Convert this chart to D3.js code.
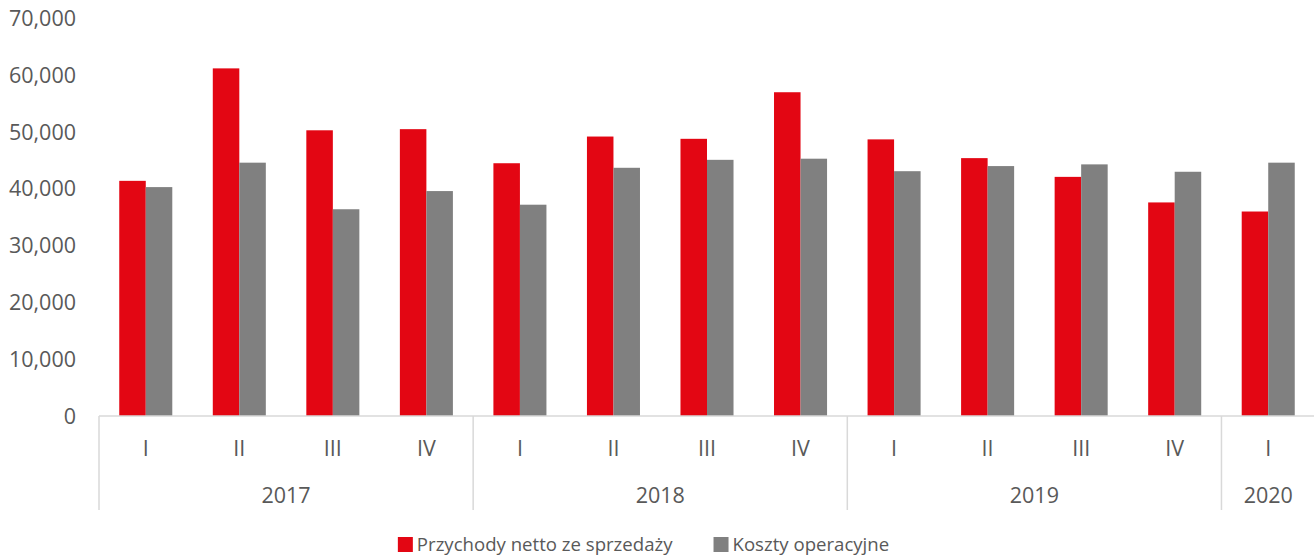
<!DOCTYPE html>
<html>
<head>
<meta charset="utf-8">
<script src="https://cdn.jsdelivr.net/npm/d3@7"></script>
<style>
  body { margin: 0; background: #fff; }
  svg { display: block; font-family: "Open Sans", sans-serif; }
</style>
</head>
<body>
<svg id="chart" width="1314" height="558"></svg>
<script>
let years = ["2017", "2018", "2019", "2020"]
let yearQuarters = [4, 4, 4, 1]
let quarters = ["I", "II", "III", "IV", "I", "II", "III", "IV", "I", "II", "III", "IV", "I"]
let revenue = [41400, 61200, 50300, 50500, 44500, 49200, 48800, 57000, 48700, 45400, 42100, 37600, 36000]
let costs = [40300, 44600, 36400, 39600, 37200, 43700, 45100, 45300, 43100, 44000, 44300, 43000, 44600]
let seriesNames = ["Przychody netto ze sprzedaży", "Koszty operacyjne"]
let seriesColors = ["#e30613", "#808080"]
let yTicks = [0, 10000, 20000, 30000, 40000, 50000, 60000, 70000]

let svg = d3.select("#chart")
let textColor = "#595959"
let lineColor = "#d9d9d9"

let plotLeft = 99, plotRight = 1315, plotTop = 18.4, plotBottom = 416

let x = d3.scaleBand()
    .domain(d3.range(quarters.length))
    .range([plotLeft, plotRight])
    .paddingInner(0.433)
    .paddingOuter(0.2165)

let xSeries = d3.scaleBand()
    .domain([0, 1])
    .range([0, x.bandwidth()])

let y = d3.scaleLinear()
    .domain([0, 70000])
    .range([plotBottom, plotTop])

let fmt = d3.format(",")

// y tick labels
svg.append("g")
    .selectAll("text")
    .data(yTicks)
    .enter()
    .append("text")
    .attr("x", 76)
    .attr("y", d => y(d))
    .attr("dy", "0.35em")
    .attr("text-anchor", "end")
    .attr("fill", textColor)
    .style("font-size", "21.5px")
    .text(d => fmt(d))

// bars
let rows = quarters.map((q, i) => ({ i: i, values: [revenue[i], costs[i]] }))

let groups = svg.append("g")
    .selectAll("g")
    .data(rows)
    .enter()
    .append("g")
    .attr("transform", d => "translate(" + x(d.i) + ",0)")

groups.selectAll("rect")
    .data(d => d.values.map((v, s) => ({ v: v, s: s })))
    .enter()
    .append("rect")
    .attr("x", d => xSeries(d.s))
    .attr("width", xSeries.bandwidth())
    .attr("y", d => y(d.v))
    .attr("height", d => y(0) - y(d.v))
    .attr("fill", d => seriesColors[d.s])

// category axis
svg.append("line")
    .attr("x1", plotLeft).attr("x2", plotRight)
    .attr("y1", plotBottom).attr("y2", plotBottom)
    .attr("stroke", lineColor)
    .attr("stroke-width", 1.5)

let step = x.step()

svg.append("g")
    .selectAll("text")
    .data(quarters)
    .enter()
    .append("text")
    .attr("x", (d, i) => x(i) + x.bandwidth() / 2)
    .attr("y", 448)
    .attr("dy", "0.35em")
    .attr("text-anchor", "middle")
    .attr("fill", textColor)
    .style("font-size", "21.5px")
    .text(d => d)

let starts = []
let acc = 0
yearQuarters.forEach(n => { starts.push(acc); acc += n })

let bounds = starts.concat([quarters.length])
svg.append("g")
    .selectAll("line")
    .data(bounds)
    .enter()
    .append("line")
    .attr("x1", d => plotLeft + d * step)
    .attr("x2", d => plotLeft + d * step)
    .attr("y1", plotBottom)
    .attr("y2", 510)
    .attr("stroke", lineColor)
    .attr("stroke-width", 1.5)

svg.append("g")
    .selectAll("text")
    .data(years)
    .enter()
    .append("text")
    .attr("x", (d, i) => plotLeft + (starts[i] + yearQuarters[i] / 2) * step)
    .attr("y", 495)
    .attr("dy", "0.35em")
    .attr("text-anchor", "middle")
    .attr("fill", textColor)
    .style("font-size", "21.5px")
    .text(d => d)

// legend
let legend = svg.append("g")
let lx = 0
seriesNames.forEach((name, i) => {
    let item = legend.append("g").attr("transform", "translate(" + lx + ",0)")
    item.append("rect")
        .attr("x", 0).attr("y", -14)
        .attr("width", 15).attr("height", 15)
        .attr("fill", seriesColors[i])
    let t = item.append("text")
        .attr("x", 19)
        .attr("y", 0)
        .attr("fill", textColor)
        .style("font-size", "18.6px")
        .text(name)
    lx += 19 + t.node().getComputedTextLength() + 41
})
let legendW = lx - 41
legend.attr("transform", "translate(" + (643.5 - legendW / 2) + ",551)")
</script>
</body>
</html>
